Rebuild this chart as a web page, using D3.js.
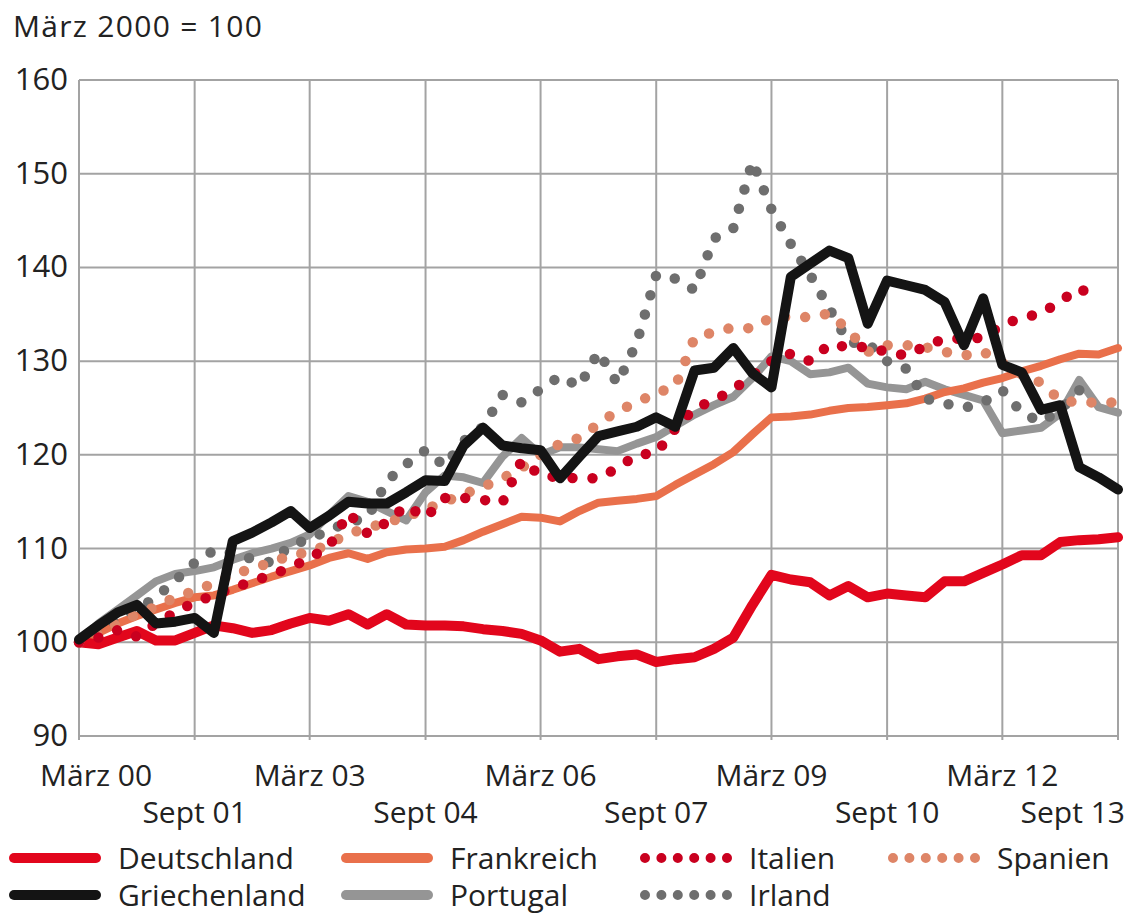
<!DOCTYPE html>
<html>
<head>
<meta charset="utf-8">
<script src="https://cdn.jsdelivr.net/npm/d3@7"></script>
<style>
	body { margin: 0; background: #fff; }
	svg { display: block; font-family: "Open Sans", sans-serif; }
</style>
</head>
<body>
<div class="svg-container"></div>
<script>
(function () {

	"use strict";

	// quarterly values, März 2000 = 100
	var deutschland = [
		100.0, 99.8, 100.5, 101.2, 100.2, 100.2, 101.0, 101.8, 101.5, 101.0,
		101.3, 102.0, 102.6, 102.3, 103.0, 101.9, 103.0, 101.9, 101.8, 101.8,
		101.7, 101.4, 101.2, 100.9, 100.2, 99.0, 99.3, 98.2, 98.5, 98.7,
		97.9, 98.2, 98.4, 99.3, 100.5, 104.0, 107.2, 106.7, 106.4, 105.0,
		106.0, 104.8, 105.2, 105.0, 104.8, 106.5, 106.5, 107.4, 108.3, 109.3,
		109.3, 110.7, 110.9, 111.0, 111.2 ];

	var frankreich = [
		100.0, 101.0, 102.0, 102.8, 103.5, 104.2, 104.8, 105.0, 105.6, 106.3,
		107.0, 107.6, 108.2, 109.0, 109.5, 108.9, 109.6, 109.9, 110.0, 110.2,
		110.9, 111.8, 112.6, 113.4, 113.3, 112.9, 114.0, 114.9, 115.1, 115.3,
		115.6, 116.8, 117.9, 119.0, 120.3, 122.2, 124.0, 124.1, 124.3, 124.7,
		125.0, 125.1, 125.3, 125.5, 126.0, 126.7, 127.1, 127.7, 128.2, 128.9,
		129.5, 130.2, 130.8, 130.7, 131.4 ];

	var italien = [
		100.0, 100.5, 101.3, 100.6, 102.0, 103.2, 104.3, 105.0, 105.8, 106.5,
		107.2, 108.0, 109.0, 110.2, 113.8, 111.6, 112.8, 114.6, 113.3, 115.4,
		115.4, 115.2, 114.9, 119.4, 117.8, 117.6, 117.5, 117.5, 118.6, 120.0,
		120.2, 122.8, 125.0, 125.8, 127.0, 128.5, 130.0, 130.8, 130.0, 131.8,
		131.5, 131.5, 131.0, 130.6, 131.6, 132.4, 132.4, 132.5, 133.9, 134.6,
		135.1, 136.4, 137.8, 136.6 ];

	var spanien = [
		100.0, 101.0, 102.0, 103.0, 103.8, 104.8, 105.5, 106.3, 107.2, 107.9,
		108.5, 109.3, 109.6, 110.5, 111.6, 112.2, 112.8, 113.4, 114.2, 115.0,
		115.8, 116.6, 117.5, 118.6, 120.0, 121.2, 121.8, 123.3, 124.7, 125.6,
		126.6, 127.3, 132.5, 133.1, 133.6, 133.5, 134.7, 134.7, 134.7, 135.1,
		133.3, 131.0, 131.7, 131.7, 131.5, 131.0, 130.6, 131.0, 129.8, 128.6,
		127.7, 125.8, 125.6, 125.6, 125.6 ];

	var griechenland = [
		100.3, 101.8, 103.2, 104.0, 102.0, 102.2, 102.6, 101.0, 110.8, 111.7,
		112.8, 114.0, 112.2, 113.5, 115.0, 114.8, 114.8, 116.0, 117.3, 117.2,
		121.0, 122.9, 121.0, 120.7, 120.5, 117.5, 119.8, 122.0, 122.5, 123.0,
		124.0, 123.0, 129.0, 129.3, 131.4, 128.7, 127.2, 139.0, 140.4, 141.8,
		141.0, 134.0, 138.6, 138.1, 137.6, 136.3, 131.7, 136.7, 129.6, 128.8,
		124.8, 125.3, 118.7, 117.6, 116.3 ];

	var portugal = [
		100.0, 102.0, 103.5, 105.0, 106.5, 107.3, 107.6, 108.0, 108.8, 109.5,
		110.0, 110.6, 111.5, 113.6, 115.6, 115.0, 114.0, 113.0, 116.0, 117.8,
		117.6, 117.0, 119.8, 121.8, 120.0, 120.8, 120.8, 120.6, 120.4, 121.2,
		121.9, 123.1, 124.3, 125.3, 126.2, 128.2, 130.5, 130.0, 128.6, 128.8,
		129.3, 127.6, 127.2, 127.0, 127.8, 127.0, 126.4, 125.8, 122.3, 122.6,
		122.9, 124.4, 128.0, 125.1, 124.5 ];

	var irland = [
		100.0, 101.2, 102.5, 103.5, 104.8, 106.6, 108.5, 109.8, 109.5, 108.9,
		108.5, 110.4, 111.0, 112.0, 112.8, 113.3, 117.2, 119.0, 120.5, 118.8,
		121.5, 123.0, 126.4, 125.6, 127.0, 128.4, 127.3, 131.0, 127.6, 132.0,
		139.2, 138.8, 137.6, 143.1, 144.2, 151.3, 146.2, 142.5, 139.2, 135.6,
		132.0, 131.9, 130.0, 129.2, 126.0, 125.5, 125.0, 125.6, 126.9, 124.5,
		123.5, 124.8, 126.9, 127.2 ];

	var y_ticks 		= [ 90, 100, 110, 120, 130, 140, 150, 160 ];
	var x_tick_dates 	= [ "2000-03", "2001-09", "2003-03", "2004-09", "2006-03", "2007-09", "2009-03", "2010-09", "2012-03", "2013-09" ];
	var x_tick_labels 	= [ "März 00", "Sept 01", "März 03", "Sept 04", "März 06", "Sept 07", "März 09", "Sept 10", "März 12", "Sept 13" ];

	var parseMonth = d3.timeParse("%Y-%m");

	// one date per quarter, starting März 2000
	var quarters = d3.range(55).map(function (i) { return new Date(2000, 2 + 3 * i, 1); });

	var series = [
		{ name: "Portugal", 		values: portugal, 		color: "#959595", width: 8, dotted: false },
		{ name: "Frankreich", 		values: frankreich, 	color: "#e9704b", width: 8, dotted: false },
		{ name: "Deutschland", 		values: deutschland, 	color: "#e2061c", width: 10, dotted: false },
		{ name: "Irland", 			values: irland, 		color: "#6e6e6e", width: 10.5, dotted: true },
		{ name: "Spanien", 			values: spanien, 		color: "#de8567", width: 10.5, dotted: true },
		{ name: "Italien", 			values: italien, 		color: "#c9001f", width: 10.5, dotted: true },
		{ name: "Griechenland", 	values: griechenland, 	color: "#141414", width: 10, dotted: false }
	];

	var legend_rows = [
		[ "Deutschland", "Frankreich", "Italien", "Spanien" ],
		[ "Griechenland", "Portugal", "Irland" ]
	];

	var width = 1130, height = 915;
	var plot = { left: 79, right: 1118, top: 80, bottom: 736 };
	var dash = "0 20";

	var svg = d3.select(".svg-container").append("svg")
		.attr("width", width)
		.attr("height", height);

	var x = d3.scaleTime()
		.domain([ parseMonth(x_tick_dates[0]), parseMonth(x_tick_dates[x_tick_dates.length - 1]) ])
		.range([ plot.left, plot.right ]);

	var y = d3.scaleLinear()
		.domain([ 90, 160 ])
		.range([ plot.bottom, plot.top ]);

	// title
	svg.append("text")
		.attr("x", 13)
		.attr("y", 37)
		.attr("font-size", 30)
		.attr("letter-spacing", 1.3)
		.attr("fill", "#222")
		.text("März 2000 = 100");

	// grid
	var grid = svg.append("g").attr("stroke", "#a3a3a3").attr("stroke-width", 2);

	grid.selectAll(".hgrid")
		.data(y_ticks)
		.enter()
		.append("line")
		.attr("x1", plot.left)
		.attr("x2", plot.right)
		.attr("y1", function (d) { return y(d); })
		.attr("y2", function (d) { return y(d); });

	grid.selectAll(".vgrid")
		.data(x_tick_dates)
		.enter()
		.append("line")
		.attr("x1", function (d) { return x(parseMonth(d)); })
		.attr("x2", function (d) { return x(parseMonth(d)); })
		.attr("y1", plot.top)
		.attr("y2", plot.bottom + 4);

	// y labels
	svg.append("g")
		.selectAll("text")
		.data(y_ticks)
		.enter()
		.append("text")
		.attr("x", 68)
		.attr("y", function (d) { return y(d) + 10; })
		.attr("text-anchor", "end")
		.attr("font-size", 31)
		.attr("fill", "#222")
		.text(function (d) { return d; });

	// x labels, März on the upper row, Sept on the lower one
	var last = x_tick_dates.length - 1;

	svg.append("g")
		.selectAll("text")
		.data(x_tick_dates)
		.enter()
		.append("text")
		.attr("x", function (d, i) {
			if ( i === 0 ) return 40;
			if ( i === last ) return 1125;
			return x(parseMonth(d));
		})
		.attr("y", function (d, i) { return i % 2 === 0 ? 786 : 823; })
		.attr("text-anchor", function (d, i) { return i === 0 ? "start" : ( i === last ? "end" : "middle" ); })
		.attr("font-size", 30)
		.attr("fill", "#222")
		.text(function (d, i) { return x_tick_labels[i]; });

	// lines
	var line = d3.line()
		.x(function (d, i) { return x(quarters[i]); })
		.y(function (d) { return y(d); });

	svg.append("g")
		.selectAll("path")
		.data(series)
		.enter()
		.append("path")
		.attr("d", function (d) { return line(d.values); })
		.attr("fill", "none")
		.attr("stroke", function (d) { return d.color; })
		.attr("stroke-width", function (d) { return d.width; })
		.attr("stroke-linejoin", "round")
		.attr("stroke-linecap", "round")
		.attr("stroke-dasharray", function (d) { return d.dotted ? dash : null; });

	// legend
	var col_x 	= [ 14, 346, 645, 893 ];
	var row_y 	= [ 858, 895 ];
	var byName 	= {};
	series.forEach(function (s) { byName[s.name] = s; });

	legend_rows.forEach(function (row, r) {
		row.forEach(function (name, c) {
			var s = byName[name];
			var g = svg.append("g").attr("transform", "translate(" + col_x[c] + "," + row_y[r] + ")");
			g.append("line")
				.attr("x1", 0)
				.attr("x2", 82)
				.attr("stroke", s.color)
				.attr("stroke-width", 10)
				.attr("stroke-linecap", "round")
				.attr("stroke-dasharray", s.dotted ? "0 16.4" : null);
			g.append("text")
				.attr("x", 104)
				.attr("y", 11)
				.attr("font-size", 30)
				.attr("fill", "#222")
				.text(name);
		});
	});

})();
</script>
</body>
</html>
